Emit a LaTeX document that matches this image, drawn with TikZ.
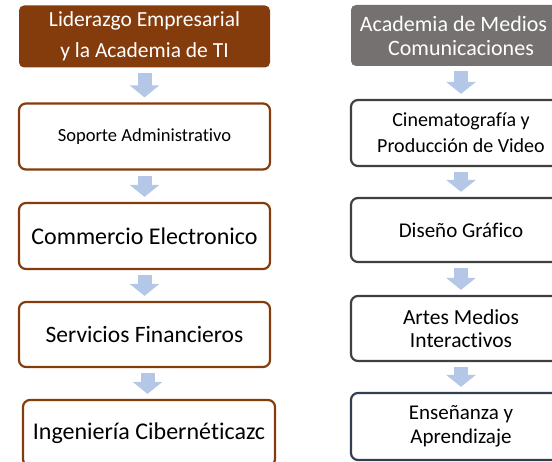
\documentclass[tikz,border=0pt]{standalone}
\usepackage{fontspec}
\setmainfont{Carlito}[Ligatures=NoCommon]
\usepackage{tikz}
\usetikzlibrary{arrows.meta, positioning, calc}
\definecolor{leadcolor}{HTML}{843C0C}
\definecolor{mediacolor}{HTML}{767171}
\definecolor{boxline}{HTML}{404040}
\definecolor{lastline}{HTML}{333F50}
\definecolor{flowcolor}{HTML}{B4C7E7}

\begin{document}
\begin{tikzpicture}[
    x=1pt, y=-1pt,
    header/.style={rounded corners=5pt, minimum height=62pt, text=white, align=center},
    stage/.style={draw, line width=2.2pt, rounded corners=7pt, minimum height=66pt, align=center, text=black},
    flow/.style={flowcolor, line width=14pt, -{Triangle[length=12pt, width=29pt]}, shorten <=5pt, shorten >=5pt},
]
    \useasboundingbox (0,0) rectangle (552,462);
    \clip (0,0) rectangle (552,462);

    % Left column
    \node[header, fill=leadcolor, minimum width=251pt, font=\fontsize{21.5}{31}\selectfont] (lead) at (144.5, 36.5) {Liderazgo Empresarial\\y la Academia de TI};
    \node[stage, draw=leadcolor, minimum width=251pt, font=\fontsize{18.5}{22}\selectfont] (soporte) at (144.5, 136.5) {Soporte Administrativo};
    \node[stage, draw=leadcolor, minimum width=251pt, font=\fontsize{24}{28}\selectfont] (comercio) at (144.5, 236) {Commercio Electronico};
    \node[stage, draw=leadcolor, minimum width=251pt, minimum height=65pt, font=\fontsize{23.5}{28}\selectfont] (servicios) at (144.5, 334.5) {Servicios Financieros};
    \node[stage, draw=leadcolor, minimum width=252pt, font=\fontsize{24}{28}\selectfont] (ingenieria) at (149, 433) {Ingeniería Cibernéticazc};

    % Right column
    \node[header, fill=mediacolor, minimum width=220pt, minimum height=61pt, font=\fontsize{22}{24}\selectfont] (media) at (461, 35.5) {Academia de Medios y\\Comunicaciones};
    \node[stage, draw=boxline, minimum width=220pt, font=\fontsize{20}{26}\selectfont] (cine) at (461, 133) {Cinematografía y\\Producción de Video};
    \node[stage, draw=boxline, minimum width=220pt, minimum height=64pt, font=\fontsize{21}{24}\selectfont] (diseno) at (461, 230) {Diseño Gráfico};
    \node[stage, draw=boxline, minimum width=220pt, minimum height=65pt, font=\fontsize{21.5}{23.5}\selectfont] (artes) at (461, 328.5) {Artes Medios\\Interactivos};
    \node[stage, draw=lastline, minimum width=220pt, minimum height=67pt, font=\fontsize{21}{23.5}\selectfont] (ensenanza) at (461, 426.5) {Enseñanza y\\Aprendizaje};

    % Flow arrows
    \draw[flow] (lead) -- (soporte);
    \draw[flow] (soporte) -- (comercio);
    \draw[flow] (comercio) -- (servicios);
    \draw[flow] ([xshift=3pt]servicios.south) -- ([xshift=3pt]servicios.south |- ingenieria.north);
    \draw[flow] (media) -- (cine);
    \draw[flow] (cine) -- (diseno);
    \draw[flow] (diseno) -- (artes);
    \draw[flow] (artes) -- (ensenanza);
\end{tikzpicture}
\end{document}
